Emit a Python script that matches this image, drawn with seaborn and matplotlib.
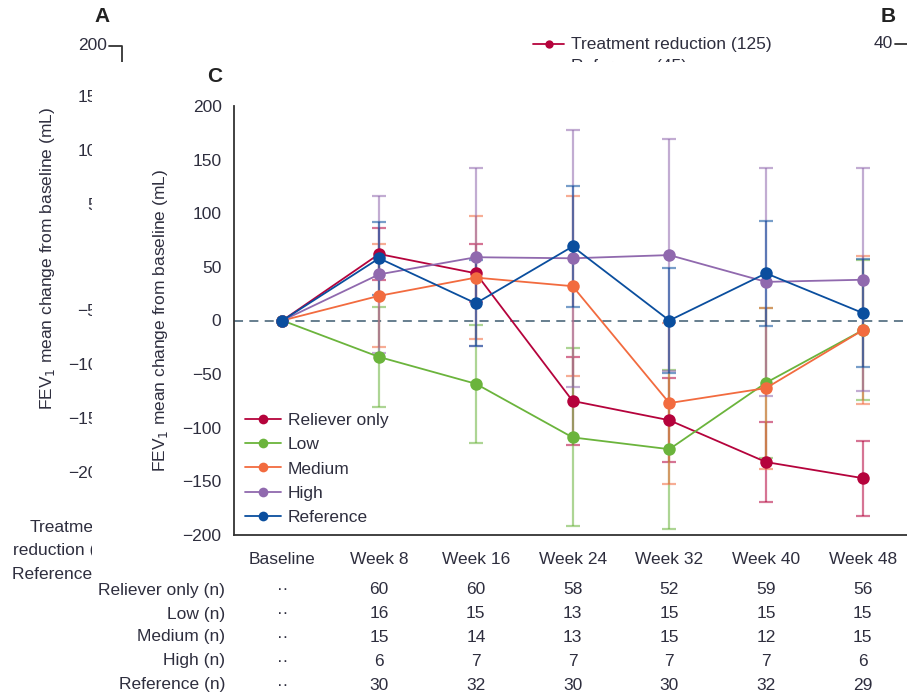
import numpy as np
import pandas as pd
import matplotlib
matplotlib.use("Agg")
import matplotlib.pyplot as plt
from matplotlib.lines import Line2D
from matplotlib.patches import Rectangle
import seaborn as sns

# ---------------- data ----------------
timepoints = ["Baseline", "Week 8", "Week 16", "Week 24", "Week 32", "Week 40", "Week 48"]
groups = ["Reliever only", "Low", "Medium", "High", "Reference"]

reliever_mean = [0, 62, 44, -75, -93, -132, -147]
reliever_err = [0, 24, 27, 41, 39, 37, 35]
low_mean = [0, -34, -59, -109, -120, -58, -9]
low_err = [0, 47, 55, 83, 74, 70, 65]
medium_mean = [0, 23, 40, 32, -77, -63, -9]
medium_err = [0, 48, 57, 84, 75, 75, 69]
high_mean = [0, 43, 59, 58, 61, 36, 38]
high_err = [0, 73, 83, 120, 108, 106, 104]
reference_mean = [0, 58, 16, 69, 0, 44, 7]
reference_err = [0, 34, 40, 56, 49, 49, 50]

n_reliever = ["··", "60", "60", "58", "52", "59", "56"]
n_low = ["··", "16", "15", "13", "15", "15", "15"]
n_medium = ["··", "15", "14", "13", "15", "12", "15"]
n_high = ["··", "6", "7", "7", "7", "7", "6"]
n_reference = ["··", "30", "32", "30", "30", "32", "29"]
row_labels = ["Reliever only (n)", "Low (n)", "Medium (n)", "High (n)", "Reference (n)"]

y_ticks = [200, 150, 100, 50, 0, -50, -100, -150, -200]
panel_a_labels = ["150", "100", "50", "−50", "−100", "−150", "−200"]
panel_a_rows = ["Treatment", "reduction (125)", "Reference (45)"]

colors = {"Reliever only": "#B5033C", "Low": "#6BB43C", "Medium": "#F26B3F",
          "High": "#9069AE", "Reference": "#0A4E9E"}
means = {"Reliever only": reliever_mean, "Low": low_mean, "Medium": medium_mean,
         "High": high_mean, "Reference": reference_mean}
errs = {"Reliever only": reliever_err, "Low": low_err, "Medium": medium_err,
        "High": high_err, "Reference": reference_err}
ns = [n_reliever, n_low, n_medium, n_high, n_reference]

rows = []
for g in groups:
    for i, t in enumerate(timepoints):
        rows.append({"group": g, "pos": i, "time": t, "value": means[g][i], "err": errs[g][i]})
df = pd.DataFrame(rows)

# ---------------- style ----------------
sns.set_theme(style="white")
plt.rcParams["font.family"] = ["Liberation Sans", "DejaVu Sans"]
TXT = "#2E2E3E"
FS = 12.5

W, H = 907, 697
fig = plt.figure(figsize=(W / 100, H / 100), dpi=100)
fig.patch.set_facecolor("white")

def fx(px):
    return px / W

def fy(py):
    return 1 - py / H

# ---------- background remnants of panels A and B ----------
fig.text(fx(102), fy(16), "A", fontsize=15, fontweight="bold", color="#222", ha="center", va="center", zorder=1)
fig.text(fx(107), fy(46), "200", fontsize=FS, color=TXT, ha="right", va="center", zorder=1)
fig.add_artist(Line2D([fx(109), fx(122), fx(122)], [fy(46), fy(46), fy(75)], color="#333", lw=1.3, zorder=1))
a_pos = [98, 152, 205, 312, 366, 420, 473]
for py, lab in zip(a_pos, panel_a_labels):
    fig.text(fx(107), fy(py), lab, fontsize=FS, color=TXT, ha="right", va="center", zorder=1)
fig.text(fx(48), fy(259), "FEV$_1$ mean change from baseline (mL)", fontsize=FS, color=TXT,
         rotation=90, ha="center", va="center", zorder=1)
for px, py, lab in zip([30, 13, 12], [527, 551, 574], panel_a_rows):
    fig.text(fx(px), fy(py), lab, fontsize=FS, color=TXT, ha="left", va="center", zorder=1)
fig.text(fx(888), fy(16), "B", fontsize=15, fontweight="bold", color="#222", ha="center", va="center", zorder=1)
fig.text(fx(893), fy(44), "40", fontsize=FS, color=TXT, ha="right", va="center", zorder=1)
fig.add_artist(Line2D([fx(895), fx(907)], [fy(44), fy(44)], color="#333", lw=1.3, zorder=1))
fig.add_artist(Line2D([fx(533), fx(549), fx(564)], [fy(44), fy(44), fy(44)], color=colors["Reliever only"],
                      lw=1.3, marker="o", markersize=6, markeredgewidth=0, markevery=[1], zorder=1))
fig.text(fx(571), fy(44), "Treatment reduction (125)", fontsize=FS, color=TXT, ha="left", va="center", zorder=1)
fig.text(fx(571), fy(67), "Reference (45)", fontsize=FS, color=TXT, ha="left", va="center", zorder=1)

# white cover (panel C sits on top of A and B)
fig.add_artist(Rectangle((fx(92), 0), 1 - fx(92), fy(62), transform=fig.transFigure,
                         facecolor="white", edgecolor="none", zorder=1.5))

# ---------------- panel C ----------------
ax = fig.add_axes([fx(234), fy(535), (W - 234) / W, (535 - 106) / H], zorder=2)
ax.set_facecolor("none")
xmax = (907 - 282) / 96.8

ax.plot([-0.5, xmax], [0, 0], ls=(0, (5, 3.5)), color="#5B7486", lw=1.3, zorder=1)

for g in groups:
    sub = df[(df.group == g) & (df.pos > 0)]
    ax.errorbar(sub.pos, sub.value, yerr=sub.err, fmt="none", ecolor=colors[g], alpha=0.55,
                elinewidth=1.6, capsize=5, capthick=1.6, zorder=2)

sns.lineplot(data=df, x="pos", y="value", hue="group", hue_order=groups, palette=colors,
             marker="o", markersize=9, markeredgewidth=0, linewidth=1.3, legend=False,
             sort=False, ax=ax, zorder=3)

ax.set_xlim(-0.5, xmax)
ax.set_ylim(-200, 200)
ax.set_yticks(y_ticks)
ax.set_yticklabels([str(v).replace("-", "−") for v in y_ticks], fontsize=FS, color=TXT)
ax.set_xticks(range(len(timepoints)))
ax.set_xticklabels(timepoints, fontsize=FS, color=TXT)
ax.set_xticks(np.arange(-0.5, 6, 1), minor=True)
ax.tick_params(axis="x", which="major", length=0, pad=12)
ax.tick_params(axis="x", which="minor", length=8, width=1.3, color="#333", direction="out")
ax.tick_params(axis="y", length=7, width=1.3, color="#333", direction="out", pad=2)
ax.set_xlabel("")
ax.set_ylabel("FEV$_1$ mean change from baseline (mL)", fontsize=FS, color=TXT)
ax.yaxis.set_label_coords((170 - 234) / (W - 234), (535 - 321) / (535 - 106))
for s in ["top", "right"]:
    ax.spines[s].set_visible(False)
for s in ["left", "bottom"]:
    ax.spines[s].set_color("#333")
    ax.spines[s].set_linewidth(1.3)

handles = [Line2D([], [], color=colors[g], lw=1.3, marker="o", markersize=7, markeredgewidth=0) for g in groups]
leg = ax.legend(handles, groups, loc="upper left", bbox_to_anchor=((245 - 234) / (W - 234), (535 - 413) / (535 - 106)),
                frameon=False, fontsize=FS, handlelength=2.1, handletextpad=0.35, labelspacing=0.52,
                borderpad=0, borderaxespad=0)
for t in leg.get_texts():
    t.set_color(TXT)

fig.text(fx(215), fy(77), "C", fontsize=15, fontweight="bold", color="#222", ha="center", va="center", zorder=3)

# table of n
row_y = [590, 614, 637, 661, 685]
trans = ax.get_xaxis_transform()
for r, (lab, vals) in enumerate(zip(row_labels, ns)):
    yy = (535 - row_y[r]) / (535 - 106)
    fig.text(fx(225), fy(row_y[r]), lab, fontsize=FS, color=TXT, ha="right", va="center", zorder=3)
    for i, v in enumerate(vals):
        ax.text(i, yy, v, transform=trans, fontsize=FS, color=TXT, ha="center", va="center", clip_on=False)

fig.savefig("out.png", dpi=100, facecolor="white")
